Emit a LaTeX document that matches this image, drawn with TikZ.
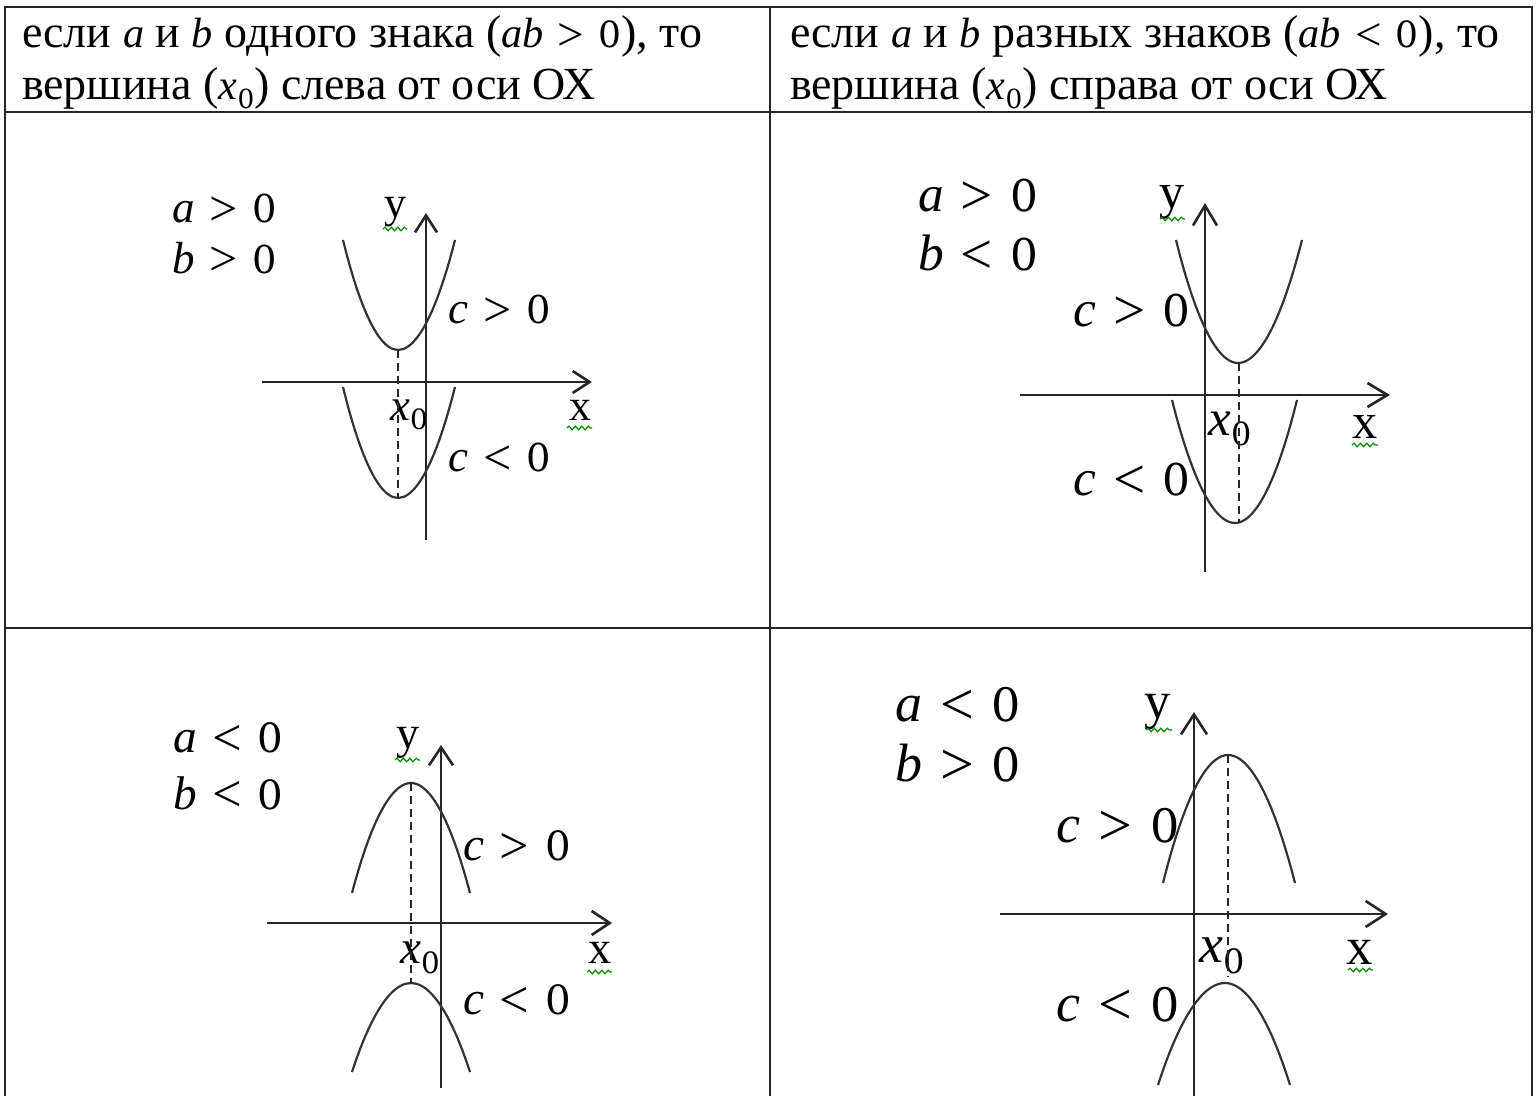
\documentclass[tikz,border=0pt]{standalone}
\usepackage{fontspec}
\setmainfont{Liberation Serif}
\newfontfamily\djvs{DejaVu Serif}
\usetikzlibrary{arrows.meta,decorations.pathmorphing}

\newcommand\setpanel[1]{%
 \pgfmathsetmacro\Ls{22.5*#1}%
 \pgfmathsetmacro\Ds{19.2*#1}%
 \pgfmathsetmacro\Rls{25*#1}%
 \pgfmathsetmacro\Ss{14*#1}%
 \pgfmathsetmacro\Us{22*#1}%
 \pgfmathsetmacro\Gs{7.5*#1}%
 \pgfmathsetmacro\Rd{1.3*#1}%
 \pgfmathsetmacro\Rs{4.5*#1}}
\newcommand\Plt[1]{{\fontsize{\Ls}{\Ls}\selectfont\itshape #1}}
\newcommand\Pdg[1]{{\fontsize{\Ds}{\Ds}\djvs #1}}
\newcommand\Prl[1]{\raisebox{-\Rd pt}{\fontsize{\Rls}{\Rls}\selectfont #1}}
\newcommand\Pineq[2]{\Plt{#1}\hspace{\Gs pt}\Prl{#2}\hspace{\Gs pt}\Pdg{0}}
\newcommand\Pxz{\Plt{x}{\fontsize{\Ss}{\Ss}\djvs\raisebox{-\Rs pt}{0}}}
\newcommand\Pup[1]{{\fontsize{\Us}{\Us}\selectfont #1}}

\tikzset{
  tbl/.style={line width=1.3pt, black!85},
  axis/.style={line width=1.3pt, black!85},
  curve/.style={line width=1.1pt, black!80},
  dashln/.style={line width=1.1pt, black!85, dash pattern=on 4pt off 2.5pt},
  squig/.style={green!55!black, line width=0.6pt, decorate,
    decoration={snake, amplitude=0.9pt, segment length=3.2pt}},
  lbl/.style={inner sep=0pt, outer sep=0pt},
  hdr/.style={inner sep=0pt, outer sep=0pt, font=\fontsize{23}{23}\selectfont, anchor=base west},
}

\begin{document}
\begin{tikzpicture}[x=0.5pt,y=-0.5pt]
\useasboundingbox (0,0) rectangle (1538,1096);
\clip (0,0) rectangle (1538,1096);
\fill[white] (0,0) rectangle (1538,1096);

% ---------- table ----------
\coordinate (tl) at (5,7);
\coordinate (tr) at (1532,7);
\coordinate (bl) at (5,1100);
\coordinate (br) at (1532,1100);
\coordinate (hl) at (5,112);
\coordinate (hr) at (1532,112);
\coordinate (ml) at (5,628);
\coordinate (mr) at (1532,628);
\coordinate (ct) at (770,7);
\coordinate (cb) at (770,1100);
\draw[tbl] (bl) -- (tl) -- (tr) -- (br);
\draw[tbl] (hl) -- (hr);
\draw[tbl] (ml) -- (mr);
\draw[tbl] (ct) -- (cb);

% ---------- header ----------
\begin{scope}
\setpanel{0.94}
\node[hdr] (h1a) at (22,48) {если \Plt{a} и \Plt{b} одного знака (\Plt{ab}\hspace{\Gs pt}\Prl{>}\hspace{\Gs pt}\Pdg{0}), то};
\node[hdr] (h1b) at (22,100) {вершина (\Pxz) слева от оси ОХ};
\node[hdr] (h2a) at (790,48) {если \Plt{a} и \Plt{b} разных знаков (\Plt{ab}\hspace{\Gs pt}\Prl{<}\hspace{\Gs pt}\Pdg{0}), то};
\node[hdr] (h2b) at (790,100) {вершина (\Pxz) справа от оси ОХ};
\end{scope}

% ---------- panel 1 ----------
\begin{scope}
\setpanel{1}
\coordinate (p1yb) at (426,540); \coordinate (p1yt) at (426,213);
\coordinate (p1xl) at (262,382); \coordinate (p1xr) at (592,382);
\draw[axis,-{Straight Barb[length=8.5pt,width=11pt]}] (p1yb) -- (p1yt);
\draw[axis,-{Straight Barb[length=8.5pt,width=11pt]}] (p1xl) -- (p1xr);
\draw[curve] (343,240) parabola bend (398,350) (455,240);
\draw[curve] (343,387) parabola bend (398,498) (455,387);
\node[lbl] (p1x0) at (409,415) {\Pxz};
\draw[dashln] (398,350) -- (398,498);
\node[lbl,anchor=west] (p1a) at (172,210) {\Pineq{a}{>}};
\node[lbl,anchor=west] (p1b) at (172,259) {\Pineq{b}{>}};
\node[lbl] (p1c1) at (500,311) {\Pineq{c}{>}};
\node[lbl] (p1c2) at (500,459) {\Pineq{c}{<}};
\node[lbl] (p1y) at (395,212) {\Pup{y}};
\node[lbl] (p1x) at (580,410) {\Pup{x}};
\draw[squig] (383,229) -- (407,229);
\draw[squig] (567,428) -- (592,428);
\end{scope}

% ---------- panel 2 ----------
\begin{scope}
\setpanel{1.14}
\coordinate (p2yb) at (1205,572); \coordinate (p2yt) at (1205,203);
\coordinate (p2xl) at (1020,395); \coordinate (p2xr) at (1390,395);
\draw[axis,-{Straight Barb[length=10pt,width=12pt]}] (p2yb) -- (p2yt);
\draw[axis,-{Straight Barb[length=10pt,width=12pt]}] (p2xl) -- (p2xr);
\draw[curve] (1176,240) parabola bend (1238,363) (1302,240);
\draw[curve] (1172,400) parabola bend (1235,523) (1297,400);
\node[lbl] (p2x0) at (1230,429) {\Pxz};
\draw[dashln] (1239,363) -- (1239,523);
\node[lbl,anchor=west] (p2a) at (918,197) {\Pineq{a}{>}};
\node[lbl,anchor=west] (p2b) at (918,254) {\Pineq{b}{<}};
\node[lbl] (p2c1) at (1132,312) {\Pineq{c}{>}};
\node[lbl] (p2c2) at (1132,481) {\Pineq{c}{<}};
\node[lbl] (p2y) at (1172,202) {\Pup{y}};
\node[lbl] (p2x) at (1365,427) {\Pup{x}};
\draw[squig] (1160,219) -- (1185,219);
\draw[squig] (1352,445) -- (1378,445);
\end{scope}

% ---------- panel 3 ----------
\begin{scope}
\setpanel{1.05}
\coordinate (p3yb) at (441,1088); \coordinate (p3yt) at (441,745);
\coordinate (p3xl) at (267,923); \coordinate (p3xr) at (612,923);
\draw[axis,-{Straight Barb[length=9pt,width=12pt]}] (p3yb) -- (p3yt);
\draw[axis,-{Straight Barb[length=9pt,width=12pt]}] (p3xl) -- (p3xr);
\draw[curve] (352,893) parabola bend (411,783) (470,893);
\draw[curve] (352,1072) parabola bend (411,983) (470,1072);
\node[lbl] (p3x0) at (420,958) {\Pxz};
\draw[dashln] (411,783) -- (411,983);
\node[lbl,anchor=west] (p3a) at (173,739) {\Pineq{a}{<}};
\node[lbl,anchor=west] (p3b) at (173,794) {\Pineq{b}{<}};
\node[lbl] (p3c1) at (517,847) {\Pineq{c}{>}};
\node[lbl] (p3c2) at (517,1001) {\Pineq{c}{<}};
\node[lbl] (p3y) at (408,743) {\Pup{y}};
\node[lbl] (p3x) at (600,953) {\Pup{x}};
\draw[squig] (395,760) -- (420,760);
\draw[squig] (587,972) -- (612,972);
\end{scope}

% ---------- panel 4 ----------
\begin{scope}
\setpanel{1.2}
\coordinate (p4yb) at (1194,1100); \coordinate (p4yt) at (1194,712);
\coordinate (p4xl) at (1000,914); \coordinate (p4xr) at (1388,914);
\draw[axis,-{Straight Barb[length=10pt,width=13pt]}] (p4yb) -- (p4yt);
\draw[axis,-{Straight Barb[length=10pt,width=13pt]}] (p4xl) -- (p4xr);
\draw[curve] (1163,883) parabola bend (1228,755) (1295,883);
\draw[curve] (1158,1085) parabola bend (1225,983) (1290,1085);
\node[lbl] (p4x0) at (1222,956) {\Pxz};
\draw[dashln] (1228,755) -- (1228,977);
\node[lbl,anchor=west] (p4a) at (895,706) {\Pineq{a}{<}};
\node[lbl,anchor=west] (p4b) at (895,764) {\Pineq{b}{>}};
\node[lbl] (p4c1) at (1118,827) {\Pineq{c}{>}};
\node[lbl] (p4c2) at (1118,1006) {\Pineq{c}{<}};
\node[lbl] (p4y) at (1158,712) {\Pup{y}};
\node[lbl] (p4x) at (1360,952) {\Pup{x}};
\draw[squig] (1146,730) -- (1172,730);
\draw[squig] (1348,970) -- (1373,970);
\end{scope}
\end{tikzpicture}
\end{document}
